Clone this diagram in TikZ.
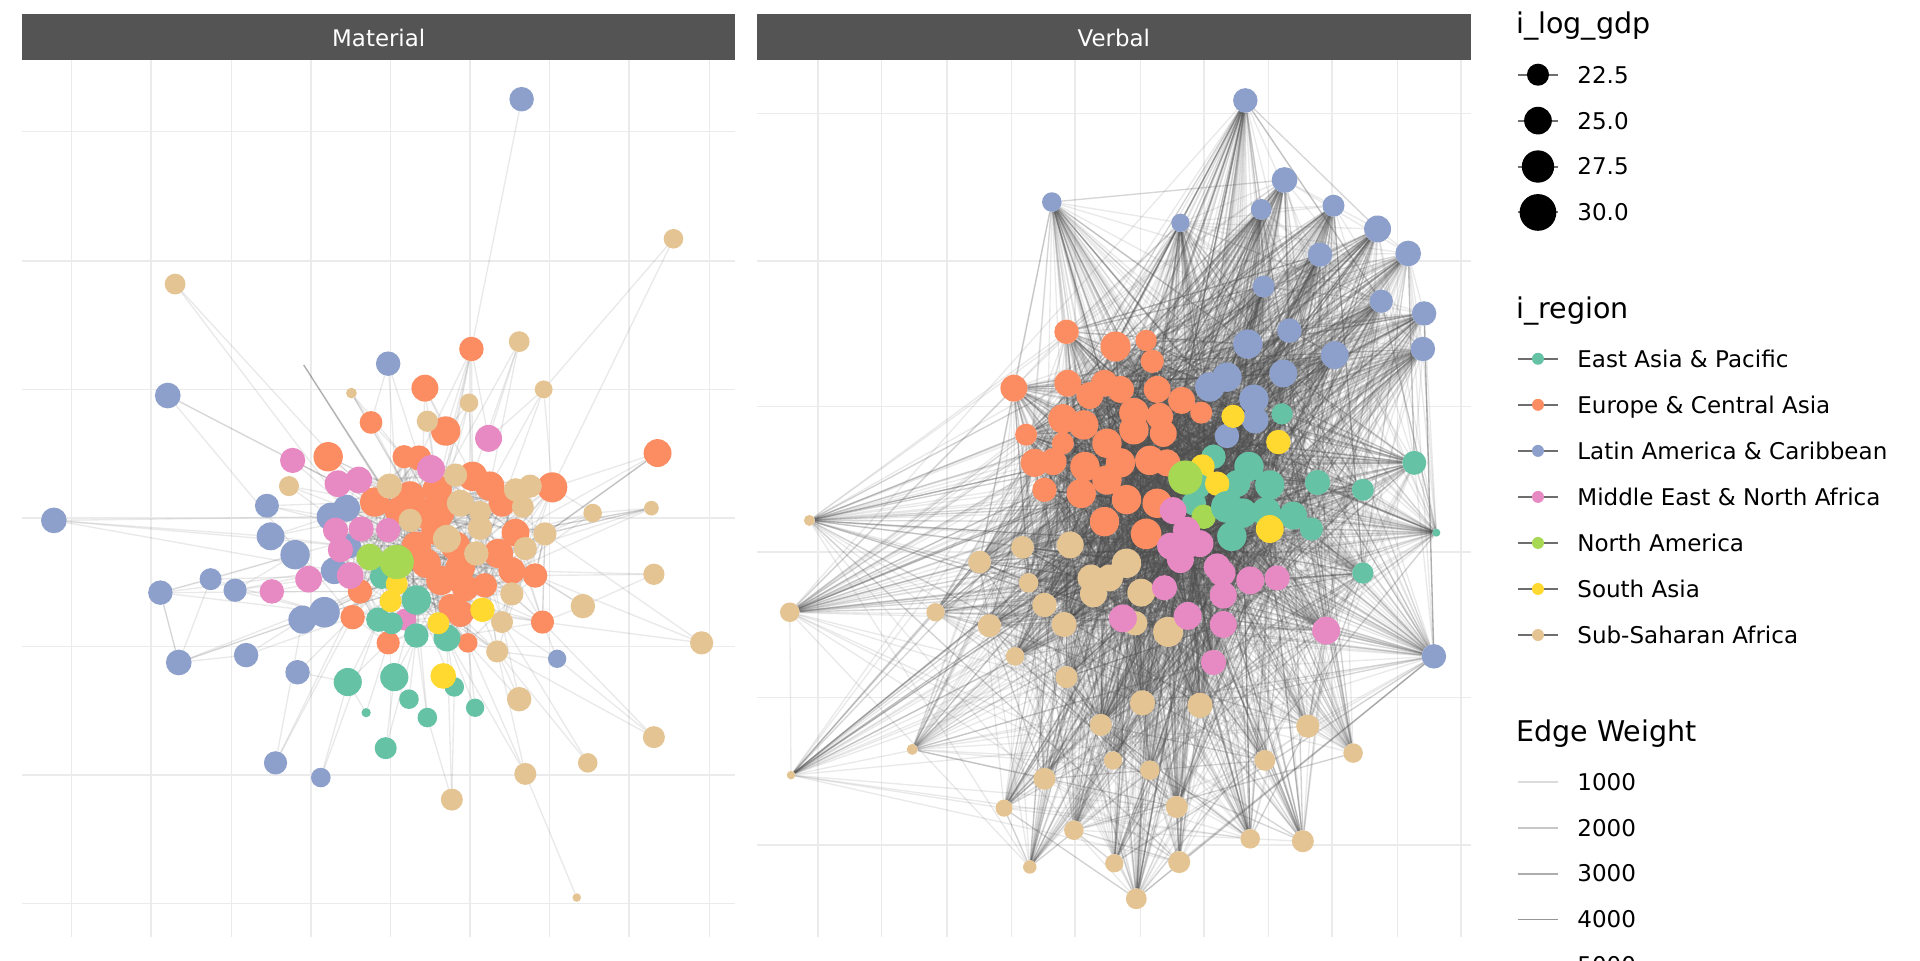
\documentclass[tikz,border=0pt]{standalone}
\usepackage{fontspec}
\setmainfont{DejaVu Sans}
\pgfdeclarelayer{gridl}
\pgfdeclarelayer{edgel}
\pgfsetlayers{gridl,edgel,main}
\definecolor{EA}{HTML}{66C2A5}
\definecolor{EU}{HTML}{FC8D62}
\definecolor{LA}{HTML}{8DA0CB}
\definecolor{ME}{HTML}{E78AC3}
\definecolor{NA}{HTML}{A6D854}
\definecolor{SA}{HTML}{FFD92F}
\definecolor{AF}{HTML}{E5C494}
\definecolor{gridc}{HTML}{EBEBEB}
\definecolor{stripc}{HTML}{545454}
\definecolor{keyc}{HTML}{6E6E6E}
\tikzset{
  nd/.style={circle, inner sep=0pt, outer sep=0pt, draw=none},
  majg/.style={draw=gridc, line width=1.6pt},
  ming/.style={draw=gridc, line width=0.8pt},
  edg/.style={draw=black!70, line width=1.1pt, opacity=0.12},
  edgd/.style={draw=black!70, line width=1.1pt, opacity=0.26},
  stripbox/.style={fill=stripc, draw=none},
  striptxt/.style={text=white, font=\fontsize{18.7}{22}\selectfont, anchor=base, inner sep=0pt},
  legtitle/.style={anchor=base west, font=\fontsize{23.3}{28}\selectfont, inner sep=0pt},
  leglab/.style={anchor=base west, font=\fontsize{18.8}{22}\selectfont, inner sep=0pt},
  keyline/.style={draw=keyc, line width=1.6pt},
}
\begin{document}
\begin{tikzpicture}[x=1pt,y=-1pt]
\useasboundingbox (0,0) rectangle (1568,784);

% ---------- grid ----------
\begin{pgfonlayer}{gridl}
\foreach \y in {107,318,528,738} \draw[ming] (18,\y) -- (600.5,\y);
\foreach \y in {213,423,633} \draw[majg] (18,\y) -- (600.5,\y);
\foreach \x in {58.6,188.8,319,449,579.6} \draw[ming] (\x,49) -- (\x,765.5);
\foreach \x in {123.5,253.8,384,514} \draw[majg] (\x,49) -- (\x,765.5);
\foreach \y in {93,332,570} \draw[ming] (618.2,\y) -- (1201,\y);
\foreach \y in {213,451,690} \draw[majg] (618.2,\y) -- (1201,\y);
\foreach \x in {720,826,931,1036,1141} \draw[ming] (\x,49) -- (\x,765.5);
\foreach \x in {668,773,878,983,1088,1193} \draw[majg] (\x,49) -- (\x,765.5);
\end{pgfonlayer}

% ---------- strips ----------
\fill[stripbox] (18,11.7) rectangle (600.5,49);
\node[striptxt] (mt) at (309.3,37.7) {Material};
\fill[stripbox] (618.2,11.7) rectangle (1201,49);
\node[striptxt] (vt) at (909.6,37.7) {Verbal};

% ---------- Material nodes ----------
\foreach \n/\x/\y/\r in {1/426/81/10, 4/137/323/10.5, 5/317/297/10, 20/44/425/10.5, 21/218/413/9.8, 22/221/438/11.4, 23/241/453/12, 26/172/473/9, 27/192/482/9.5, 28/131/484/10, 32/247/506/11.5, 33/265/500/12.5, 36/146/541/10.5, 37/201/535/10, 38/243/549/10, 39/455/538/7.5, 54/225/623/9.5, 55/262/635/8, 76/283/415/11, 77/270/422/11.4, 88/285/446/10, 103/273/466/11}
  \node[nd, fill=LA, minimum size=2*\r pt] (L\n) at (\x,\y) {};
\foreach \n/\x/\y/\r in {6/385/285/10, 11/347/317/11, 12/303/345/9.3, 14/364/352/12, 16/268/373/12, 19/537/370/11.4, 58/330/373/9.5, 59/342/374/10.3, 64/386/389/12, 65/400/397/12, 67/451/398/12.3, 71/410/411/11, 73/306/410/12, 74/335/405/12, 75/357/400/12, 79/325/417/11, 80/359/419/12, 81/344/419/12, 82/421/435/11.4, 90/356/433/12, 92/340/446/12, 93/372/446/12, 95/407/452/12, 98/348/460/12, 99/376/463/12, 100/418/466/11, 101/437/470/10, 105/360/474/12, 106/380/480/11, 107/396/478/10, 110/294/483/10, 114/368/495/10, 115/376/501/11, 117/288/504/10, 123/443/508/9.5, 126/317/525/9.5, 127/382/525/8}
  \node[nd, fill=EU, minimum size=2*\r pt] (L\n) at (\x,\y) {};
\foreach \n/\x/\y/\r in {2/550/195/8, 3/143/232/8.5, 7/424/279/8.5, 8/444/318/7.3, 9/383/329/7.6, 10/287/321/4.4, 13/349/344/8.7, 18/236/397/8.2, 24/484/419/7.6, 25/532/415/6, 31/534/469/8.7, 34/476/495/10, 35/573/525/9.5, 49/424/571/10, 50/534/602/9, 51/480/623/8, 52/429/632/9, 53/369/653/9, 56/471/733/3.5, 60/372/388/9.5, 63/318/397/10.3, 66/376/411/11, 68/433/397/9.5, 69/421/400/9.5, 70/427/414/9, 72/392/418/9, 78/335/425/9.5, 83/445/436/9.5, 84/392/431/10, 91/365/440/11.4, 94/429/448/9.5, 96/389/452/10, 113/418/485/9.5, 122/410/508/9, 128/406/532/9}
  \node[nd, fill=AF, minimum size=2*\r pt] (L\n) at (\x,\y) {};
\foreach \n/\x/\y/\r in {15/399/358/11, 17/239/376/10.3, 29/222/483/10, 30/252/473/10.9, 57/352/383/11.4, 61/276/395/10.9, 62/293/392/10.9, 85/274/433/10.3, 86/295/432/10.3, 87/317/433/10, 89/278/449/10.3, 102/286/470/10.9, 120/331/506/9}
  \node[nd, fill=ME, minimum size=2*\r pt] (L\n) at (\x,\y) {};
\foreach \n/\x/\y/\r in {40/284/557/11.5, 41/322/553/11.5, 43/371/561/8, 44/334/571/8, 45/388/578/7.5, 46/349/586/8, 47/299/582/3.8, 48/315/611/9, 104/312/471/10, 112/340/490/12, 118/309/506/10, 119/320/509/9, 124/365/521/11, 125/340/519/10}
  \node[nd, fill=EA, minimum size=2*\r pt] (L\n) at (\x,\y) {};
\foreach \n/\x/\y/\r in {42/362/552/10.5, 109/324/477/9, 111/319/491/9, 116/394/498/10, 121/358/509/9}
  \node[nd, fill=SA, minimum size=2*\r pt] (L\n) at (\x,\y) {};
\foreach \n/\x/\y/\r in {97/302/455/10.9, 108/324/459/14}
  \node[nd, fill=NA, minimum size=2*\r pt] (L\n) at (\x,\y) {};
\coordinate (dl) at (248,298);

% ---------- Verbal nodes ----------
\foreach \n/\x/\y/\r in {1/661/425/4.5, 2/645/500/8, 3/764/500/7.5, 4/800/459/9.3, 5/835/447/9.3, 6/874/445/11, 7/840/476/8, 8/853/494/10, 9/808/511/9.5, 10/869/510/10.3, 11/829/536/7.6, 12/871/553/9, 13/891/472/11, 14/906/472/11, 15/920/460/12, 16/893/485/11, 17/932/484/11.4, 18/927/509/10, 19/954/516/12.3, 20/933/574/10.3, 21/980/576/10.3, 22/899/592/9, 23/1068/593/9.5, 24/1105/615/8, 25/745/612/4.5, 26/646/633/3.5, 27/853/636/9, 28/909/621/7.5, 29/939/629/8, 30/1033/621/8.5, 31/961/659/9, 32/820/660/7, 33/877/678/8, 34/1021/685/8, 35/1064/687/9, 36/841/708/5.5, 37/910/705/7.5, 38/963/704/9, 39/928/734/8.5}
  \node[nd, fill=AF, minimum size=2*\r pt] (R\n) at (\x,\y) {};
\foreach \n/\x/\y/\r in {40/871/271/10, 41/911/283/12.3, 42/936/278/8.7, 43/941/295/9.5, 44/828/317/11, 45/872/313/11, 46/890/323/11, 47/902/313/11, 48/915/318/11, 49/945/318/11, 50/965/327/11, 51/981/337/9, 52/838/355/9, 53/868/342/12, 54/885/347/12, 55/926/337/12, 56/947/340/11, 57/926/351/12, 58/950/354/11, 59/868/362/9, 60/904/362/12, 61/845/378/11.5, 62/860/377/11, 63/886/381/12, 64/915/378/12, 65/939/376/12, 66/953/378/11, 67/853/400/10, 68/883/403/12, 69/904/392/12, 70/920/408/12, 71/945/411/12, 72/902/426/12, 73/936/436/12.5}
  \node[nd, fill=EU, minimum size=2*\r pt] (R\n) at (\x,\y) {};
\foreach \n/\x/\y/\r in {74/1017/82/10, 75/1049/147/10.5, 76/859/165/8, 77/964/182/7.5, 78/1030/171/8.5, 79/1089/168/9, 80/1125/187/11, 81/1150/207/10.5, 82/1078/208/10, 83/1032/234/9, 84/1128/246/9.5, 85/1163/256/10, 86/1162/285/10, 87/1053/270/10, 88/1019/281/12, 89/1090/290/11.4, 90/1048/305/11.4, 91/1002/308/12, 92/988/316/12, 93/1024/326/12, 94/1025/343/11, 95/1002/356/10, 96/1171/536/10}
  \node[nd, fill=LA, minimum size=2*\r pt] (R\n) at (\x,\y) {};
\foreach \n/\x/\y/\r/\c in {97/1047/338/8.7/EA, 98/1007/340/9.5/SA, 99/1044/361/10/SA, 100/1155/378/9.8/EA, 101/991/373/10/EA, 102/982/381/10/SA, 103/1020/381/12/EA, 104/1010/395/11/EA, 105/1037/396/12/EA, 106/1076/394/10.3/EA, 107/1113/400/9/EA, 108/1173/435/3.3/EA, 109/979/397/10/EA, 110/994/395/10/SA, 111/975/411/10/EA, 112/983/422/10/NA, 113/1002/414/13/EA, 114/1015/419/12/EA, 115/1034/418/12/EA, 116/1056/421/11.4/EA, 117/1071/432/9.5/EA, 118/1037/432/11.4/SA, 119/1006/438/12/EA, 120/1113/468/8.7/EA, 121/968/390/14/NA}
  \node[nd, fill=\c, minimum size=2*\r pt] (R\n) at (\x,\y) {};
\foreach \n/\x/\y/\r in {122/958/417/11, 123/969/433/11, 124/980/444/11, 125/956/446/11, 126/964/457/11, 127/994/463/11, 128/972/444/11, 129/998/468/11, 130/1021/474/11.4, 131/1043/472/10.3, 132/999/486/11, 133/951/480/10.3, 134/970/503/11.4, 135/999/510/11, 136/991/541/10.3, 137/1083/515/11.4, 138/917/505/11.4}
  \node[nd, fill=ME, minimum size=2*\r pt] (R\n) at (\x,\y) {};

% ---------- edges ----------
\begin{pgfonlayer}{edgel}
\foreach \a/\b in {1/6, 2/8, 2/67, 3/73, 4/17, 4/117, 5/12, 5/59, 5/79, 6/14, 6/59, 6/15, 6/64, 6/75, 6/80, 6/98, 7/15, 7/64, 7/65, 7/75, 8/15, 8/67, 8/65, 8/71, 9/14, 9/64, 9/75, 9/90, 10/12, 10/58, 10/74, 10/81, 11/14, 11/64, 11/75, 11/81, 12/58, 12/74, 13/14, 13/75, 16/74, 16/79, 16/63, 17/61, 17/76, 17/73, 18/76, 18/77, 18/73, 19/67, 19/82, 19/83, 20/22, 20/77, 20/88, 21/73, 21/77, 22/79, 22/88, 24/67, 24/83, 24/82, 24/100, 25/24, 25/94, 25/100, 26/28, 26/36, 26/33, 26/23, 27/33, 27/23, 27/103, 28/36, 28/33, 28/23, 28/103, 29/102, 29/110, 31/101, 31/100, 31/34, 34/101, 34/123, 34/95, 35/123, 35/101, 35/83, 36/37, 36/28, 36/32, 36/33, 37/32, 37/117, 38/117, 38/40, 39/122, 39/128, 39/123, 40/118, 40/126, 41/125, 41/112, 43/124, 44/125, 45/124, 46/112, 43/112, 45/127, 46/125, 47/126, 47/40, 48/41, 48/125, 49/128, 49/127, 49/122, 50/39, 50/123, 50/128, 51/128, 51/122, 52/128, 52/124, 52/127, 53/46, 53/124, 53/43, 54/32, 54/117, 55/40, 55/118, 56/52, 32/98, 33/92, 23/87, 22/73, 21/86, 28/110, 36/110, 26/102, 27/98, 3/86, 4/61, 20/103, 54/110}
  \draw[edg] (L\a) -- (L\b);
\foreach \a/\b in {25/83, 25/82, 19/94, 33/98, 32/105}
  \draw[edgd] (L\a) -- (L\b);
\draw[edgd] (dl) -- (L79);
\draw[edgd] (dl) -- (L105);
\pgfmathsetseed{7}
\foreach \i in {57,...,128} {
  \foreach \k in {1,...,6} {
    \pgfmathtruncatemacro\j{random(57,128)}
    \ifnum\j=\i\else\draw[edg] (L\i) -- (L\j);\fi
  }
}
\pgfmathsetseed{11}
\foreach \i in {1,...,138} {
  \foreach \k in {1,...,20} {
    \pgfmathtruncatemacro\j{random(1,138)}
    \pgfmathtruncatemacro\w{random(1,10)}
    \ifnum\j=\i\else
      \ifnum\w>8 \draw[edgd] (R\i) -- (R\j);\else\draw[edg] (R\i) -- (R\j);\fi
    \fi
  }
}
% denser web inside the core of the Verbal network
\pgfmathsetseed{23}
\foreach \i in {4,...,22,40,41,42,...,138} {
  \foreach \k in {1,...,18} {
    \pgfmathtruncatemacro\q{random(1,118)}
    \pgfmathtruncatemacro\j{\q<20 ? \q+3 : \q+20}
    \ifnum\j=\i\else\draw[edg] (R\i) -- (R\j);\fi
  }
}
\end{pgfonlayer}

% ---------- legend ----------
\node[legtitle] (t1) at (1238,27.2) {i\_log\_gdp};
\foreach \n/\y/\r/\lab in {1/61/9/22.5, 2/98.5/11.3/25.0, 3/136/13.2/27.5, 4/173.5/15/30.0} {
  \draw[keyline] (1240,\y) -- (1272,\y);
  \node[nd, fill=black, minimum size=2*\r pt] (s\n) at (1256,\y) {};
  \node[leglab] (sl\n) at (1288,\y+6.85) {\lab};
}
\node[legtitle] (t2) at (1238,260) {i\_region};
\foreach \n/\y/\c/\lab in {1/293/EA/East Asia \& Pacific, 2/330.6/EU/Europe \& Central Asia, 3/368.2/LA/Latin America \& Caribbean, 4/405.8/ME/Middle East \& North Africa, 5/443.4/NA/North America, 6/481/SA/South Asia, 7/518.6/AF/Sub-Saharan Africa} {
  \draw[keyline] (1240,\y) -- (1272,\y);
  \node[nd, fill=\c, minimum size=9.8pt] (g\n) at (1256,\y) {};
  \node[leglab] (gl\n) at (1288,\y+6.85) {\lab};
}
\node[legtitle] (t3) at (1238,605.2) {Edge Weight};
\foreach \n/\y/\g/\lab in {1/638.4/14/1000, 2/675.9/22/2000, 3/713.4/32/3000, 4/750.9/41/4000, 5/788.4/50/5000} {
  \draw[draw=black!\g, line width=1.6pt] (1240,\y) -- (1272,\y);
  \node[leglab] (el\n) at (1288,\y+6.85) {\lab};
}
\end{tikzpicture}
\end{document}
